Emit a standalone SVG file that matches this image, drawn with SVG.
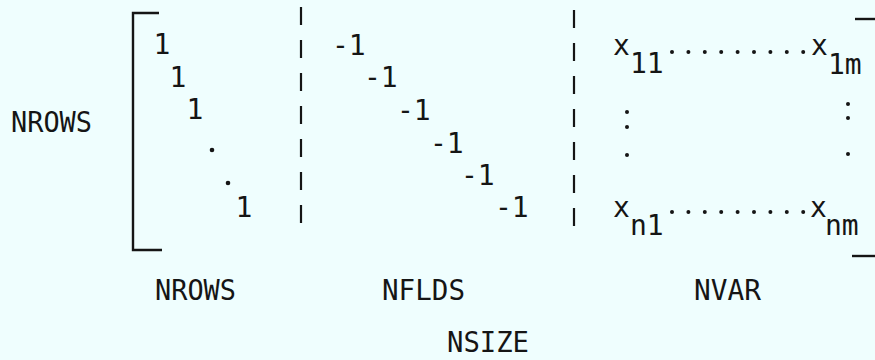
<svg xmlns="http://www.w3.org/2000/svg" width="875" height="360" viewBox="0 0 875 360">
<style>
text{font-family:"DejaVu Sans Mono","Liberation Mono",monospace;font-size:28px;fill:#151515}
.ln{stroke:#151515;stroke-width:2.4;fill:none}
.dash{stroke:#151515;stroke-width:2.2;fill:none;stroke-dasharray:18 15}
.d{fill:#151515}
</style>
<rect width="875" height="360" fill="#effefe"/>
<g id="label-rows-left"><text x="11" y="132" textLength="81" lengthAdjust="spacingAndGlyphs">NROWS</text></g>
<g id="identity-block">
<path class="ln" d="M159,13 H133 V250 H162"/>
<text x="162" y="54" text-anchor="middle">1</text>
<text x="178" y="87" text-anchor="middle">1</text>
<text x="195" y="119" text-anchor="middle">1</text>
<circle class="d" cx="212" cy="150" r="2.3"/>
<circle class="d" cx="228" cy="183" r="2.3"/>
<text x="244" y="217" text-anchor="middle">1</text>
</g>
<g id="connectors">
<line class="dash" x1="301" y1="7" x2="301" y2="226"/>
<line class="dash" x1="574" y1="10" x2="574" y2="236"/>
</g>
<g id="fields-block">
<text x="332" y="55">-1</text>
<text x="364" y="87">-1</text>
<text x="397" y="120">-1</text>
<text x="430" y="153">-1</text>
<text x="461" y="185">-1</text>
<text x="495" y="217">-1</text>
</g>
<g id="var-block">
<text x="613" y="55">x</text><text x="630" y="73">11</text>
<g class="d">
<circle cx="672" cy="52" r="2"/><circle cx="688.4" cy="52" r="2"/><circle cx="704.8" cy="52" r="2"/><circle cx="721.2" cy="52" r="2"/><circle cx="737.6" cy="52" r="2"/><circle cx="754" cy="52" r="2"/><circle cx="770.4" cy="52" r="2"/><circle cx="786.8" cy="52" r="2"/><circle cx="803.2" cy="52" r="2"/>
</g>
<text x="811" y="55">x</text><text x="828" y="74">1m</text>
<g class="d">
<circle cx="627" cy="112" r="2"/><circle cx="627" cy="127" r="2"/><circle cx="627" cy="155" r="2"/>
<circle cx="848" cy="104" r="2"/><circle cx="848" cy="118" r="2"/><circle cx="848" cy="154" r="2"/>
</g>
<text x="613" y="217">x</text><text x="630" y="235">n1</text>
<g class="d">
<circle cx="672" cy="212" r="2"/><circle cx="688.4" cy="212" r="2"/><circle cx="704.8" cy="212" r="2"/><circle cx="721.2" cy="212" r="2"/><circle cx="737.6" cy="212" r="2"/><circle cx="754" cy="212" r="2"/><circle cx="770.4" cy="212" r="2"/><circle cx="786.8" cy="212" r="2"/><circle cx="803.2" cy="212" r="2"/>
</g>
<text x="810" y="217">x</text><text x="825" y="235">nm</text>
<line class="ln" x1="855" y1="19" x2="875" y2="19" stroke-width="1.6"/>
<line class="ln" x1="852" y1="256" x2="875" y2="256" stroke-width="1.6"/>
</g>
<g id="label-rows"><text x="155" y="300" textLength="81" lengthAdjust="spacingAndGlyphs">NROWS</text></g>
<g id="label-flds"><text x="382" y="300" textLength="83" lengthAdjust="spacingAndGlyphs">NFLDS</text></g>
<g id="label-var"><text x="694" y="300" textLength="67" lengthAdjust="spacingAndGlyphs">NVAR</text></g>
<g id="label-size"><text x="447" y="352" textLength="82" lengthAdjust="spacingAndGlyphs">NSIZE</text></g>
</svg>
